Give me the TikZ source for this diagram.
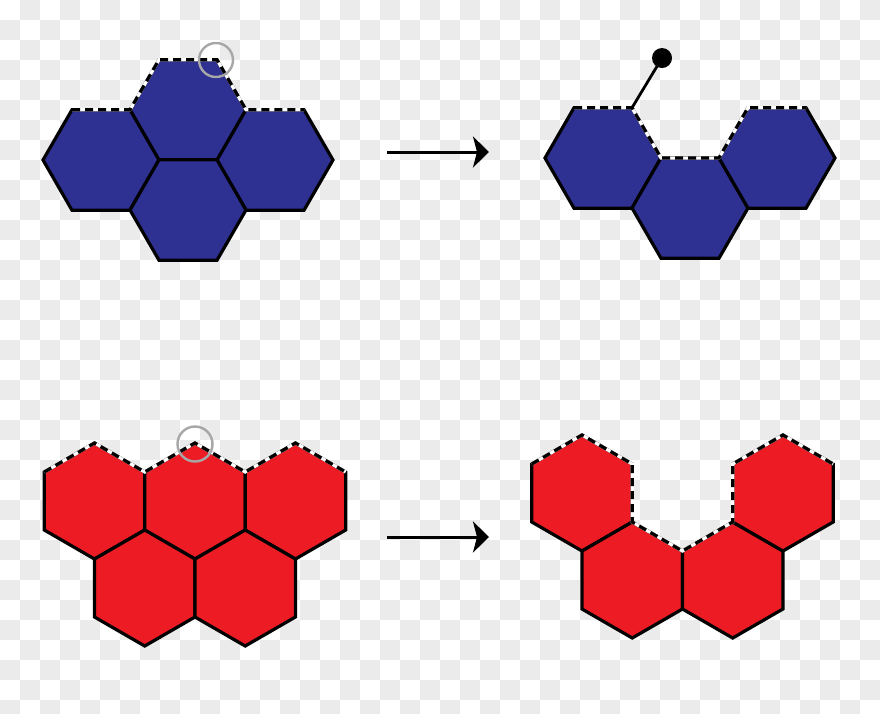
\documentclass[tikz,border=0pt]{standalone}
\usetikzlibrary{arrows.meta}
\definecolor{hexblue}{HTML}{2E3192}
\definecolor{hexred}{HTML}{ED1C24}
\definecolor{checkgray}{HTML}{EBEBEB}
\definecolor{ringgray}{HTML}{A7A7A7}
\tikzset{
  edge/.style={line width=3.2pt, line join=miter},
  flathex/.style={edge, draw=black},
  openedge/.style={line width=3.2pt, dash pattern=on 8pt off 5pt, line join=miter},
  whiteedge/.style={line width=3.2pt, white, line join=miter},
  ring/.style={draw=ringgray, line width=2.4pt},
  bigarrow/.style={line width=3pt, -{Stealth[length=16pt,width=31pt,inset=4pt]}},
}
% flat-top hexagon, R=58, h=50.23
\newcommand{\flathexagon}[3]{%
  \filldraw[flathex, fill=#3] (#1+58,#2) -- (#1+29,#2-50.23) -- (#1-29,#2-50.23) -- (#1-58,#2) -- (#1-29,#2+50.23) -- (#1+29,#2+50.23) -- cycle;}
% pointy-top hexagon, R=58, half width 50.23
\newcommand{\pointyhexagon}[3]{%
  \filldraw[flathex, fill=#3] (#1,#2-58) -- (#1+50.23,#2-29) -- (#1+50.23,#2+29) -- (#1,#2+58) -- (#1-50.23,#2+29) -- (#1-50.23,#2-29) -- cycle;}
\begin{document}
\begin{tikzpicture}[x=1pt,y=-1pt]
\useasboundingbox (0,0) rectangle (880,713);
\clip (0,0) rectangle (880,713);
% checkered background
\fill[white] (0,0) rectangle (880,713);
\foreach \j in {0,...,35} {
  \pgfmathtruncatemacro\off{mod(\j+1,2)}
  \foreach \k in {0,...,21} {
    \fill[checkgray] ({(2*\k+\off)*20},{\j*20}) rectangle ++(20,20);
  }
}
% ---------- top left (blue, 4 hexagons) ----------
\flathexagon{188}{110}{hexblue}
\flathexagon{101}{160}{hexblue}
\flathexagon{275}{160}{hexblue}
\flathexagon{188}{210}{hexblue}
\draw[whiteedge] (72,109.77) -- (130,109.77) -- (159,59.77) -- (217,59.77) -- (246,109.77) -- (304,109.77);
\draw[openedge] (72,109.77) -- (130,109.77) -- (159,59.77) -- (217,59.77) -- (246,109.77) -- (304,109.77);
\coordinate (ringA) at (216,60);
\draw[ring] (ringA) circle[radius=17];
% ---------- top right (blue, 3 hexagons) ----------
\flathexagon{603}{158}{hexblue}
\flathexagon{690}{208}{hexblue}
\flathexagon{777}{158}{hexblue}
\draw[whiteedge] (574,107.77) -- (632,107.77) -- (661,158) -- (719,158) -- (748,107.77) -- (806,107.77);
\draw[openedge] (574,107.77) -- (632,107.77) -- (661,158) -- (719,158) -- (748,107.77) -- (806,107.77);
\coordinate (stickbase) at (632,107.77);
\coordinate (ballc) at (662,58);
\draw[line width=2.8pt] (stickbase) -- (ballc);
\fill[black] (ballc) circle[radius=10];
% ---------- bottom left (red, 5 hexagons) ----------
\pointyhexagon{94.5}{501}{hexred}
\pointyhexagon{194.96}{501}{hexred}
\pointyhexagon{295.42}{501}{hexred}
\pointyhexagon{144.73}{588}{hexred}
\pointyhexagon{245.19}{588}{hexred}
\draw[whiteedge] (44.27,472) -- (94.5,443) -- (144.73,472) -- (194.96,443) -- (245.19,472) -- (295.42,443) -- (345.65,472);
\draw[openedge] (44.27,472) -- (94.5,443) -- (144.73,472) -- (194.96,443) -- (245.19,472) -- (295.42,443) -- (345.65,472);
\coordinate (ringB) at (195,444);
\draw[ring] (ringB) circle[radius=17.5];
% ---------- bottom right (red, 4 hexagons) ----------
\pointyhexagon{582}{493}{hexred}
\pointyhexagon{632.23}{580}{hexred}
\pointyhexagon{732.69}{580}{hexred}
\pointyhexagon{782.92}{493}{hexred}
\draw[whiteedge] (531.77,464) -- (582,435) -- (632.23,464) -- (632.23,522) -- (682.46,551) -- (732.69,522) -- (732.69,464) -- (782.92,435) -- (833.15,464);
\draw[openedge] (531.77,464) -- (582,435) -- (632.23,464) -- (632.23,522) -- (682.46,551) -- (732.69,522) -- (732.69,464) -- (782.92,435) -- (833.15,464);
% ---------- arrows ----------
\coordinate (a1s) at (387,152);
\coordinate (a1e) at (489,152);
\coordinate (a2s) at (387,537);
\coordinate (a2e) at (489,537);
\draw[bigarrow] (a1s) -- (a1e);
\draw[bigarrow] (a2s) -- (a2e);
\end{tikzpicture}
\end{document}
